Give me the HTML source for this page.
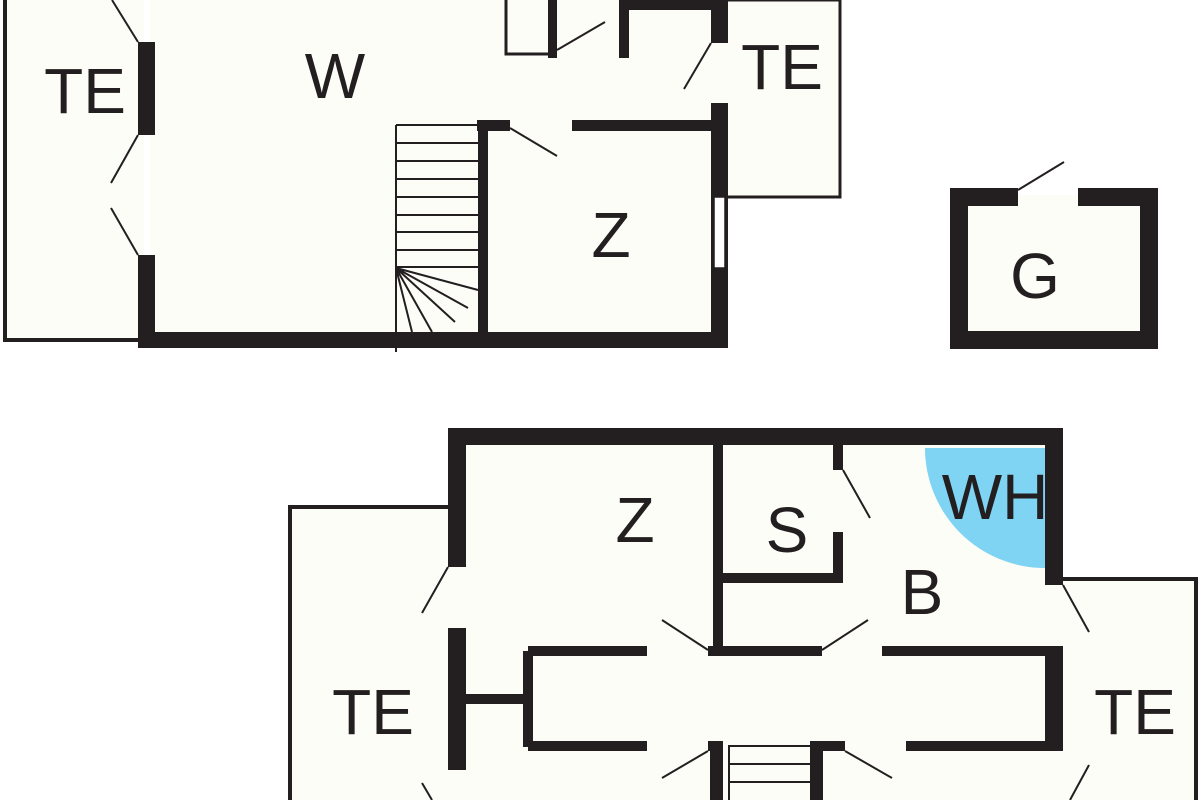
<!DOCTYPE html>
<html><head><meta charset="utf-8"><style>
html,body{margin:0;padding:0;background:#fff;}
svg{display:block;}
text{font-family:"Liberation Sans",sans-serif;font-size:64px;fill:#231f20;text-anchor:middle;}
</style></head><body>
<svg width="1200" height="800" viewBox="0 0 1200 800" xmlns="http://www.w3.org/2000/svg">
<g fill="#fdfdf8">
<rect x="4" y="0" width="140" height="340"/>
<rect x="150" y="0" width="570" height="340"/>
<rect x="720" y="0" width="120" height="197"/>
<rect x="504" y="0" width="44" height="54"/>
<rect x="955" y="195" width="200" height="150"/>
<rect x="290" y="508" width="170" height="292"/>
<rect x="455" y="435" width="600" height="365"/>
<rect x="1055" y="580" width="142" height="220"/>
</g>
<path d="M1045 448 L925 448 A120 120 0 0 0 1045 568 Z" fill="#7fd3f3"/>
<g fill="none" stroke="#231f20" stroke-width="4">
<path d="M5 0 V340 H140"/>
<path d="M727 0 H840 V197 H727" stroke-width="3"/>
<path d="M506 0 V54 H548" stroke-width="3"/>
<path d="M450 507 H290 V800"/>
<path d="M1063 579 H1196 V800"/>
</g>
<g fill="#231f20">
<!-- top plan walls -->
<rect x="138" y="42" width="17" height="93"/>
<rect x="138" y="255" width="17" height="93"/>
<rect x="138" y="332" width="590" height="16"/>
<rect x="478" y="120" width="10" height="214"/>
<rect x="477" y="120" width="33" height="11"/>
<rect x="572" y="120" width="148" height="11"/>
<rect x="711" y="0" width="17" height="43"/>
<rect x="711" y="103" width="17" height="245"/>
<rect x="548" y="0" width="9" height="58"/>
<rect x="619" y="3" width="10" height="55"/>
<rect x="619" y="0" width="95" height="10"/>
<!-- G -->
<rect x="950" y="188" width="68" height="18"/>
<rect x="1078" y="188" width="80" height="18"/>
<rect x="950" y="188" width="18" height="161"/>
<rect x="1140" y="188" width="18" height="161"/>
<rect x="950" y="331" width="208" height="18"/>
<!-- bottom plan -->
<rect x="448" y="428" width="615" height="17"/>
<rect x="448" y="428" width="18" height="139"/>
<rect x="448" y="628" width="18" height="142"/>
<rect x="466" y="694" width="58" height="10"/>
<rect x="523" y="651" width="10" height="96"/>
<rect x="528" y="646" width="119" height="10"/>
<rect x="528" y="741" width="119" height="10"/>
<rect x="713" y="445" width="10" height="206"/>
<rect x="708" y="646" width="114" height="10"/>
<rect x="882" y="646" width="181" height="10"/>
<rect x="1045" y="428" width="18" height="157"/>
<rect x="1045" y="646" width="18" height="105"/>
<rect x="906" y="741" width="157" height="10"/>
<rect x="833" y="445" width="10" height="25"/>
<rect x="833" y="532" width="10" height="51"/>
<rect x="723" y="573" width="120" height="10"/>
<rect x="710" y="741" width="13" height="59"/>
<rect x="708" y="741" width="15" height="10"/>
<rect x="810" y="741" width="13" height="59"/>
<rect x="810" y="741" width="35" height="10"/>
</g>
<rect x="714" y="197" width="11" height="71" fill="#fff" stroke="#231f20" stroke-width="1.5"/>
<g stroke="#231f20" stroke-width="2" fill="none">
<!-- doors -->
<path d="M138 42 L112 0"/>
<path d="M138 135 L111 183"/>
<path d="M111 208 L138 255"/>
<path d="M510 128 L557 156"/>
<path d="M711 43 L684 89"/>
<path d="M557 50 L605 22"/>
<path d="M1018 190 L1064 162"/>
<path d="M448 567 L422 613"/>
<path d="M422 783 L432 800"/>
<path d="M708 650 L662 620"/>
<path d="M822 650 L868 620"/>
<path d="M843 470 L870 518"/>
<path d="M1063 585 L1089 632"/>
<path d="M1089 765 L1070 800"/>
<path d="M708 751 L662 778"/>
<path d="M845 751 L892 778"/>
<!-- stairs top -->
<path d="M396 125 V352 M396 125 H478"/>
<path d="M396 143 H478 M396 161 H478 M396 179 H478 M396 197 H478 M396 215 H478 M396 232 H478 M396 250 H478 M396 267 H478"/>
<path d="M396 268 L478 290 M396 268 L468 308 M396 268 L455 322 M396 268 L432 332 M396 268 L412 332"/>
<!-- stairs bottom -->
<path d="M729 800 V746 H810 M729 764 H810 M729 782 H810"/>
</g>
<text x="85" y="113">TE</text>
<text x="335" y="98">W</text>
<text x="782" y="89">TE</text>
<text x="611" y="257">Z</text>
<text x="1035" y="298">G</text>
<text x="635" y="542">Z</text>
<text x="787" y="552">S</text>
<text x="995" y="519">WH</text>
<text x="922" y="614">B</text>
<text x="373" y="734">TE</text>
<text x="1135" y="734">TE</text>
</svg>
</body></html>
